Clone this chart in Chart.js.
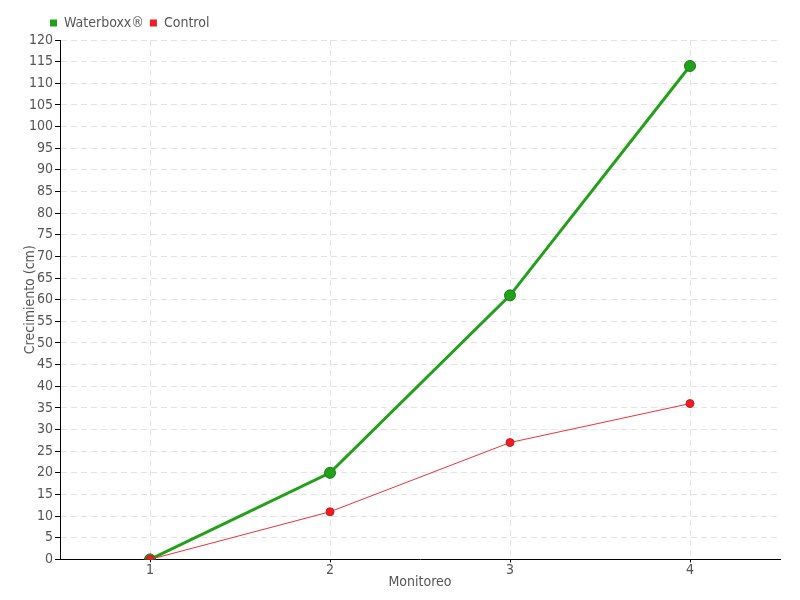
<!DOCTYPE html>
<html><head><meta charset="utf-8">
<script src="https://cdn.jsdelivr.net/npm/chart.js@4"></script>
<style>html,body{margin:0;padding:0;background:#fff}#wrap{width:800px;height:600px}</style>
</head><body><div id="wrap"><canvas id="c" width="800" height="600"></canvas></div>
<script>
const categories = ["1", "2", "3", "4"];
const waterboxx = [0, 20, 61, 114];
const control = [0, 11, 27, 36];
const seriesNames = ["Waterboxx®", "Control"];
const yTitle = "Crecimiento (cm)";
const xTitle = "Monitoreo";

const FONT = "'DejaVu Sans Condensed', 'Liberation Sans Narrow', sans-serif";
Chart.defaults.font.family = FONT;
Chart.defaults.color = '#555';

const shiftLegend = {
  id: 'shiftLegend',
  afterLayout(chart) {
    const l = chart.legend;
    if (l) { l.left += 22; l.right += 22; }
  }
};

new Chart(document.getElementById('c'), {
  type: 'line',
  data: {
    labels: categories,
    datasets: [
      { label: seriesNames[0], data: waterboxx, borderColor: '#23a01a', backgroundColor: '#23a01a',
        borderWidth: 3, pointRadius: 5.5, pointBackgroundColor: '#23a01a', pointBorderColor: '#1a7a14', pointBorderWidth: 1, order: 1, tension: 0 },
      { label: seriesNames[1], data: control, borderColor: '#f0303a', backgroundColor: '#ee1c25',
        borderWidth: 1, pointRadius: 4, pointBackgroundColor: '#ee1c25', pointBorderColor: '#d01820', pointBorderWidth: 1, order: 0, tension: 0 }
    ]
  },
  plugins: [shiftLegend],
  options: {
    responsive: false,
    animation: false,
    layout: { padding: { left: 22, right: 20, top: 10, bottom: 0 } },
    plugins: {
      legend: {
        position: 'top', align: 'start',
        labels: { boxWidth: 7, boxHeight: 7, font: { size: 14 }, color: '#555', padding: 6,
          generateLabels: (chart) => chart.data.datasets.map((d, i) => ({
            text: d.label, fillStyle: d.backgroundColor, strokeStyle: d.backgroundColor, lineWidth: 0,
            hidden: false, datasetIndex: i, fontColor: '#555' })) }
      },
      tooltip: { enabled: false }
    },
    scales: {
      x: {
        offset: true,
        grid: { offset: false, color: '#e3e3e3', drawTicks: true, tickLength: 3, tickColor: '#000', tickBorderDash: [] },
        border: { display: true, color: '#000', width: 1, dash: [6, 4] },
        ticks: { font: { size: 14 }, color: '#555', padding: 0 },
        title: { display: true, text: xTitle, font: { size: 14 }, color: '#555', padding: { top: -5, bottom: 9 } }
      },
      y: {
        min: 0, max: 120,
        grid: { color: '#e3e3e3', tickColor: '#000', tickLength: 5, tickBorderDash: [] },
        border: { display: true, color: '#000', width: 1, dash: [6, 4] },
        ticks: { stepSize: 5, font: { size: 14 }, color: '#555', padding: 2 },
        title: { display: true, text: yTitle, font: { size: 14 }, color: '#555', padding: { top: 0, bottom: 2 } },
        afterFit: (s) => { s.width = 38; }
      }
    }
  }
});
</script></body></html>
